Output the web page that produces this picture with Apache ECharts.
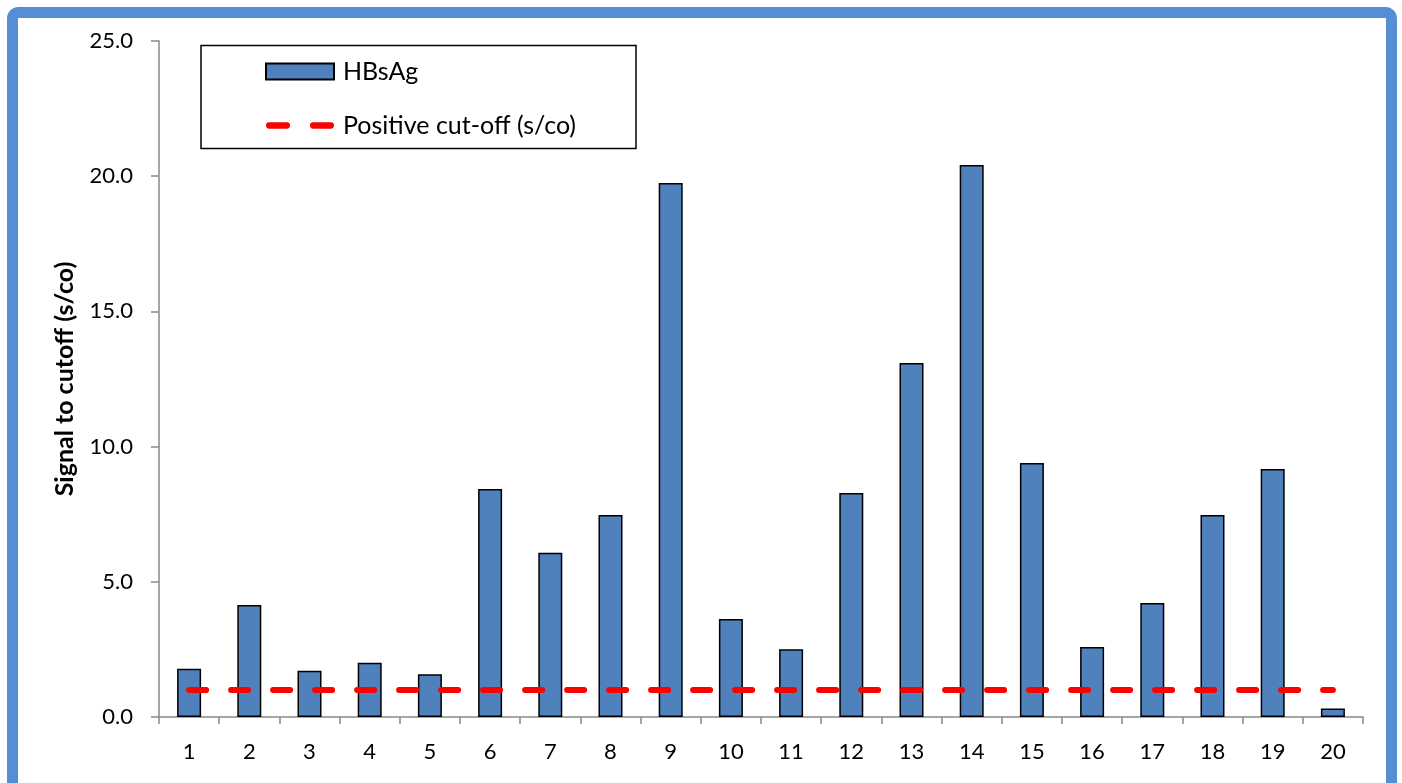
<!DOCTYPE html>
<html>
<head>
<meta charset="utf-8">
<script src="https://cdn.jsdelivr.net/npm/echarts@6/dist/echarts.min.js"></script>
<style>
  html, body { margin: 0; padding: 0; background: #fff; }
  #chart { width: 1402px; height: 783px; }
</style>
</head>
<body>
<div id="chart"></div>
<script>
// samples 1..20
const samples = ['1', '2', '3', '4', '5', '6', '7', '8', '9', '10',
                 '11', '12', '13', '14', '15', '16', '17', '18', '19', '20'];
// HBsAg signal to cutoff values
const hbsag = [1.78, 4.14, 1.71, 2.01, 1.58, 8.43, 6.07, 7.47, 19.75, 3.62,
               2.51, 8.28, 13.09, 20.41, 9.39, 2.59, 4.22, 7.47, 9.17, 0.31];
// positive cut-off is 1.0 s/co for every sample
const cutoff = samples.map(() => 1.0);

const fontFamily = 'Lato, "Open Sans", sans-serif';
const axisGray = '#898989';
// legend icon for the dashed line: two rounded dashes
const dashIcon = 'path://M3,0H20A3,3 0 0 1 20,6H3A3,3 0 0 1 3,0Z M45,0H62A3,3 0 0 1 62,6H45A3,3 0 0 1 45,0Z';

const chart = echarts.init(document.getElementById('chart'));

const option = {
    animation: false,
    backgroundColor: '#fff',
    textStyle: { fontFamily: fontFamily },
    graphic: [
        {
            // blue frame round the chart
            type: 'rect',
            z: -10,
            shape: { x: 12.5, y: 12.5, width: 1379, height: 790, r: 6 },
            style: { fill: 'none', stroke: '#558ED5', lineWidth: 11 }
        },
        {
            // legend frame
            type: 'rect',
            z: -5,
            shape: { x: 201, y: 45.5, width: 435, height: 103 },
            style: { fill: '#fff', stroke: '#000', lineWidth: 1.5 }
        }
    ],
    grid: {
        left: 159,
        right: 39,
        top: 41,
        bottom: 66
    },
    legend: {
        orient: 'vertical',
        left: 265,
        top: 59,
        padding: 0,
        itemWidth: 68,
        itemHeight: 16,
        itemGap: 29,
        textStyle: { fontSize: 25, lineHeight: 24, color: '#000', fontFamily: fontFamily, padding: [0, 0, 0, 4] },
        data: [
            { name: 'HBsAg', icon: 'rect' },
            { name: 'Positive cut-off (s/co)', icon: dashIcon }
        ]
    },
    xAxis: {
        type: 'category',
        data: samples,
        axisLine: { lineStyle: { color: axisGray, width: 1.5 } },
        axisTick: { show: true, length: 7, lineStyle: { color: axisGray, width: 1.5 } },
        axisLabel: { color: '#000', fontSize: 22, margin: 24, fontFamily: fontFamily }
    },
    yAxis: {
        type: 'value',
        min: 0,
        max: 25,
        interval: 5,
        name: 'Signal to cutoff (s/co)',
        nameLocation: 'middle',
        nameGap: 82,
        nameTextStyle: { fontSize: 25, fontWeight: 'bold', color: '#000', fontFamily: fontFamily },
        splitLine: { show: false },
        axisLine: { show: true, lineStyle: { color: axisGray, width: 1.5 } },
        axisTick: { show: true, length: 8, lineStyle: { color: axisGray, width: 1.5 } },
        axisLabel: {
            color: '#000',
            fontSize: 22,
            margin: 26,
            fontFamily: fontFamily,
            formatter: v => v.toFixed(1)
        }
    },
    series: [
        {
            name: 'HBsAg',
            type: 'bar',
            data: hbsag,
            barWidth: 24,
            itemStyle: { color: '#4F81BD', borderColor: '#000', borderWidth: 1.5 }
        },
        {
            name: 'Positive cut-off (s/co)',
            type: 'line',
            data: cutoff,
            symbol: 'none',
            z: 5,
            lineStyle: { color: '#FF0000', width: 6, type: [17, 25], cap: 'round' },
            itemStyle: { color: '#FF0000' }
        }
    ]
};

chart.setOption(option);
</script>
</body>
</html>
